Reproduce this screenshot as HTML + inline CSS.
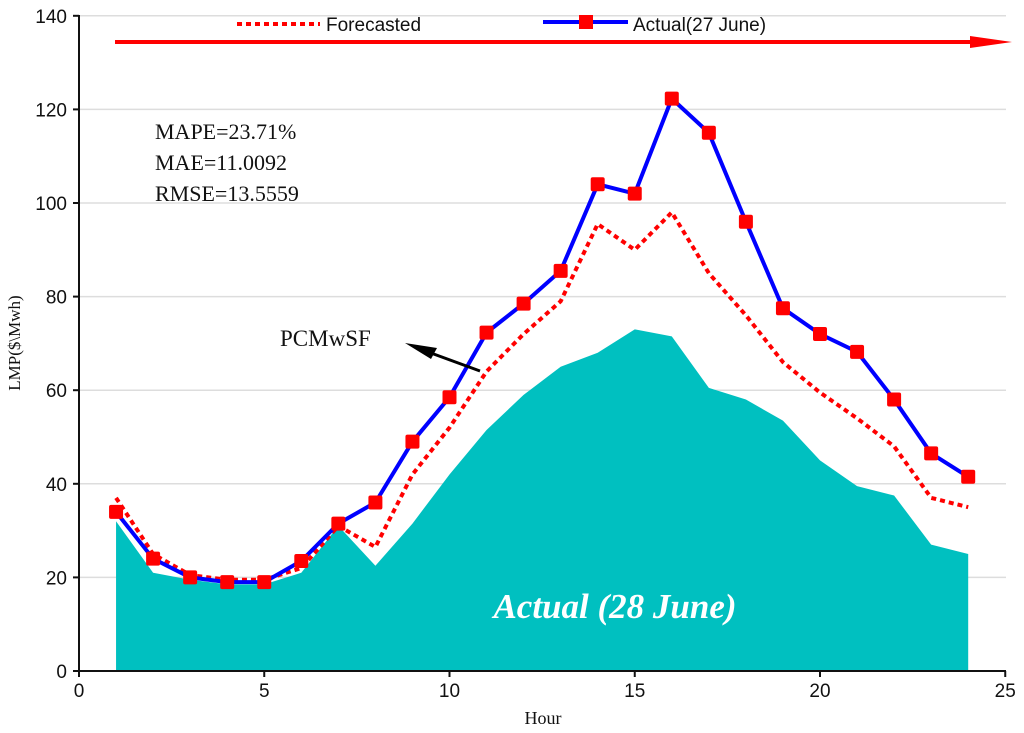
<!DOCTYPE html>
<html><head><meta charset="utf-8"><style>
body{margin:0;background:#fff}
svg{display:block}
.t{font-family:"Liberation Sans",sans-serif;font-size:19px;fill:#111}
.s{font-family:"Liberation Serif",serif;fill:#111}
</style></head><body>
<svg id="c" width="1024" height="733" viewBox="0 0 1024 733"></svg>
<script>
const hours=[1,2,3,4,5,6,7,8,9,10,11,12,13,14,15,16,17,18,19,20,21,22,23,24];
const actual27=[34,24,20,19,19,23.5,31.5,36,49,58.5,72.3,78.5,85.5,104,102,122.3,115,96,77.5,72,68.2,58,46.5,41.5];
const forecasted=[37,25,20.5,19.5,19.5,22,31,26.5,42,52,64,72,79,95.5,90,98,85,76,66,59.5,54,48,37,35];
const actual28=[32,21,19.5,18.5,18.5,21,31,22.5,31.5,42,51.5,59,65,68,73,71.5,60.5,58,53.5,45,39.5,37.5,27,25];
const xTicks=[0,5,10,15,20,25];
const yTicks=[0,20,40,60,80,100,120,140];
const X=v=>79+v*37.05, Y=v=>671-v*4.68;
const svg=document.getElementById('c');const NS='http://www.w3.org/2000/svg';
function el(t,a,p){const e=document.createElementNS(NS,t);for(const k in a)e.setAttribute(k,a[k]);(p||svg).appendChild(e);return e;}
// grid
yTicks.forEach(v=>{if(v>0){const g=el('line',{x1:79,x2:1006,y1:Y(v),y2:Y(v),stroke:'#ddd','stroke-width':1.5});

}});
// area
let d='M'+X(hours[0])+','+Y(0);hours.forEach((h,i)=>d+=' L'+X(h)+','+Y(actual28[i]));d+=' L'+X(hours[hours.length-1])+','+Y(0)+'Z';
const ar=el('path',{d:d,fill:'#00c0c0'});


const at=el('text',{x:615,y:618,'text-anchor':'middle',style:'fill:#fff;font-family:"Liberation Serif",serif;font-size:35px;font-style:italic;font-weight:bold'});at.textContent='Actual (28 June)';


// axes
const ax=el('path',{d:'M79,15 V671 H1006',fill:'none',stroke:'#111','stroke-width':2});


yTicks.forEach(v=>{el('line',{x1:73,x2:79,y1:Y(v),y2:Y(v),stroke:'#111','stroke-width':2});
const t=el('text',{x:67,y:Y(v)+7,'text-anchor':'end',class:'t'});t.textContent=v;

});
xTicks.forEach(v=>{el('line',{x1:X(v),x2:X(v),y1:671,y2:677,stroke:'#111','stroke-width':2});
const t=el('text',{x:X(v),y:697,'text-anchor':'middle',class:'t'});t.textContent=v;

});
const xt=el('text',{x:543,y:724,'text-anchor':'middle',class:'s','font-size':18});xt.textContent='Hour';


const yt=el('text',{x:0,y:0,'text-anchor':'middle',class:'s','font-size':17,transform:'translate(20,343) rotate(-90)'});yt.textContent='LMP($\\Mwh)';


// forecast
const fl=el('polyline',{points:hours.map((h,i)=>X(h)+','+Y(forecasted[i])).join(' '),fill:'none',stroke:'#f00','stroke-width':4,'stroke-dasharray':'5,4'});


// actual
const al=el('polyline',{points:hours.map((h,i)=>X(h)+','+Y(actual27[i])).join(' '),fill:'none',stroke:'#00f','stroke-width':4});


hours.forEach((h,i)=>{const m=el('rect',{x:X(h)-7,y:Y(actual27[i])-7,width:14,height:14,rx:2,fill:'#f00'});

});
// legend
const lg=el('g',{});


el('line',{x1:237,x2:320,y1:24,y2:24,stroke:'#f00','stroke-width':4,'stroke-dasharray':'5,4'},lg);
const l1=el('text',{x:326,y:31,class:'t','font-size':20},lg);l1.textContent='Forecasted';


el('line',{x1:543,x2:628,y1:22,y2:22,stroke:'#00f','stroke-width':4},lg);
el('rect',{x:579,y:15,width:14,height:14,fill:'#f00'},lg);
const l2=el('text',{x:633,y:31,class:'t','font-size':20},lg);l2.textContent='Actual(27 June)';


// red arrow
const ra=el('g',{});


el('line',{x1:115,x2:990,y1:42,y2:42,stroke:'#f00','stroke-width':4},ra);
el('polygon',{points:'1012,42 970,36 970,48',fill:'#f00'},ra);
// stats
['MAPE=23.71%','MAE=11.0092','RMSE=13.5559'].forEach((s,i)=>{const t=el('text',{x:155,y:139+i*31,class:'s','font-size':22});t.textContent=s;

});
// annotation
const pt=el('text',{x:280,y:346,class:'s','font-size':23});pt.textContent='PCMwSF';


const pa=el('g',{});


el('line',{x1:480,y1:371,x2:420,y2:349,stroke:'#000','stroke-width':3},pa);
el('polygon',{points:'405,343 437,348 431,359',fill:'#000'},pa);
</script>
</body></html>
